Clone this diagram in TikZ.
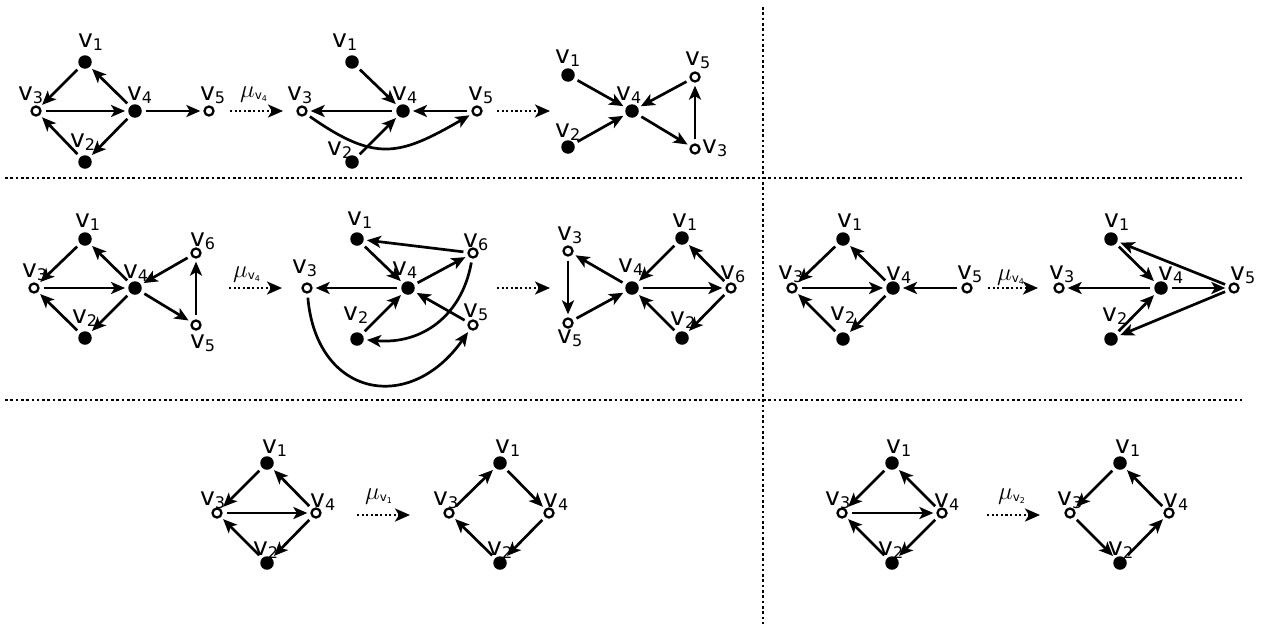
\documentclass[tikz,border=0pt]{standalone}
\usepackage{fontspec}
\setmainfont{DejaVu Sans}
\usepackage{tikz}
\usetikzlibrary{arrows.meta}
\newcommand{\vlab}[1]{v\raisebox{-3pt}{\fontsize{16}{16}\selectfont #1}}
\newcommand{\mulab}[1]{{\fontsize{25}{28}\selectfont$\mu$}\raisebox{-2pt}{\fontsize{12}{12}\selectfont v\raisebox{-2pt}{\fontsize{8}{8}\selectfont #1}}}
\tikzset{
  % Vertices
  mutable/.style={circle, fill=black, inner sep=0pt, minimum size=13.5pt},
  frozen/.style={circle, draw=black, fill=white, line width=2.3pt, inner sep=0pt, minimum size=9pt},
  % Labels
  vlabel/.style={anchor=base west, inner sep=0pt, font=\fontsize{25}{28}\selectfont},
  mulabel/.style={anchor=base west, inner sep=0pt},
  % Arrows
  myarrow/.style={-{Stealth[length=14pt, width=12pt, inset=3.5pt]}, line width=2.7pt,
    shorten <=4pt, shorten >=3pt},
  mutarrow/.style={-{Stealth[length=15pt, width=13pt, inset=4pt]}, line width=2.6pt,
    dash pattern=on 2.2pt off 2.4pt},
  % Separators
  divider/.style={line width=2.6pt, dash pattern=on 2.6pt off 2.7pt},
}
\begin{document}
\begin{tikzpicture}[x=1pt, y=1pt]
  \useasboundingbox (0,0) rectangle (1265,-629);

  % Separators
  \draw[divider] (5,-178) -- (1242,-178);
  \draw[divider] (5,-400) -- (1242,-400);
  \draw[divider] (763,-7) -- (763,-625);

  % Top row, quiver A
  \node[mutable] (a1) at (85,-62) {};
  \node[frozen] (a3) at (36,-111) {};
  \node[mutable] (a4) at (135,-111) {};
  \node[mutable] (a2) at (85,-162) {};
  \node[frozen] (a5) at (209,-111) {};
  \node[vlabel] (a1l) at (78,-47) {\vlab{1}};
  \node[vlabel] (a3l) at (18,-100) {\vlab{3}};
  \node[vlabel] (a4l) at (127,-100) {\vlab{4}};
  \node[vlabel] (a2l) at (70,-147) {\vlab{2}};
  \node[vlabel] (a5l) at (200,-100) {\vlab{5}};
  \draw[myarrow] (a1) -- (a3);
  \draw[myarrow] (a4) -- (a1);
  \draw[myarrow] (a3) -- (a4);
  \draw[myarrow] (a2) -- (a3);
  \draw[myarrow] (a4) -- (a2);
  \draw[myarrow] (a4) -- (a5);

  \coordinate (m1s) at (230,-111);
  \coordinate (m1e) at (283,-111);
  \draw[mutarrow] (m1s) -- (m1e);
  \node[mulabel] (m1l) at (240,-97) {\mulab{4}};

  % Top row, quiver B
  \node[mutable] (b1) at (352,-62) {};
  \node[frozen] (b3) at (302,-111) {};
  \node[mutable] (b4) at (403,-111) {};
  \node[mutable] (b2) at (352,-162) {};
  \node[frozen] (b5) at (477,-111) {};
  \node[vlabel] (b1l) at (332,-47) {\vlab{1}};
  \node[vlabel] (b3l) at (287,-100) {\vlab{3}};
  \node[vlabel] (b4l) at (392,-100) {\vlab{4}};
  \node[vlabel] (b2l) at (327,-155) {\vlab{2}};
  \node[vlabel] (b5l) at (468,-100) {\vlab{5}};
  \draw[myarrow] (b1) -- (b4);
  \draw[myarrow] (b4) -- (b3);
  \draw[myarrow] (b5) -- (b4);
  \draw[myarrow] (b2) -- (b4);
  \draw[myarrow] (b3) to[out=-35, in=-150, looseness=1.3] (b5);

  \coordinate (m2s) at (497,-111);
  \coordinate (m2e) at (550,-111);
  \draw[mutarrow] (m2s) -- (m2e);

  % Top row, quiver C
  \node[mutable] (c1) at (568,-75) {};
  \node[mutable] (c4) at (632,-111) {};
  \node[mutable] (c2) at (568,-147) {};
  \node[frozen] (c5) at (695,-77) {};
  \node[frozen] (c3) at (695,-149) {};
  \node[vlabel] (c1l) at (555,-63) {\vlab{1}};
  \node[vlabel] (c4l) at (616,-100) {\vlab{4}};
  \node[vlabel] (c2l) at (555,-137) {\vlab{2}};
  \node[vlabel] (c5l) at (685,-65) {\vlab{5}};
  \node[vlabel] (c3l) at (702,-153) {\vlab{3}};
  \draw[myarrow] (c1) -- (c4);
  \draw[myarrow] (c2) -- (c4);
  \draw[myarrow] (c5) -- (c4);
  \draw[myarrow] (c4) -- (c3);
  \draw[myarrow] (c3) -- (c5);

  % Middle row, quiver D
  \node[mutable] (d1) at (85,-239) {};
  \node[frozen] (d3) at (34,-288) {};
  \node[mutable] (d4) at (135,-288) {};
  \node[mutable] (d2) at (85,-338) {};
  \node[frozen] (d6) at (196,-253) {};
  \node[frozen] (d5) at (196,-325) {};
  \node[vlabel] (d1l) at (75,-227) {\vlab{1}};
  \node[vlabel] (d3l) at (22,-277) {\vlab{3}};
  \node[vlabel] (d4l) at (123,-278) {\vlab{4}};
  \node[vlabel] (d2l) at (72,-323) {\vlab{2}};
  \node[vlabel] (d6l) at (190,-246) {\vlab{6}};
  \node[vlabel] (d5l) at (190,-348) {\vlab{5}};
  \draw[myarrow] (d1) -- (d3);
  \draw[myarrow] (d4) -- (d1);
  \draw[myarrow] (d3) -- (d4);
  \draw[myarrow] (d2) -- (d3);
  \draw[myarrow] (d4) -- (d2);
  \draw[myarrow] (d6) -- (d4);
  \draw[myarrow] (d4) -- (d5);
  \draw[myarrow] (d5) -- (d6);

  \coordinate (m3s) at (229,-288);
  \coordinate (m3e) at (282,-288);
  \draw[mutarrow] (m3s) -- (m3e);
  \node[mulabel] (m3l) at (233,-277) {\mulab{4}};

  % Middle row, quiver E
  \node[mutable] (e1) at (357,-239) {};
  \node[frozen] (e3) at (307,-288) {};
  \node[mutable] (e4) at (408,-288) {};
  \node[mutable] (e2) at (357,-339) {};
  \node[frozen] (e6) at (473,-253) {};
  \node[frozen] (e5) at (473,-325) {};
  \node[vlabel] (e1l) at (347,-225) {\vlab{1}};
  \node[vlabel] (e3l) at (292,-273) {\vlab{3}};
  \node[vlabel] (e4l) at (392,-275) {\vlab{4}};
  \node[vlabel] (e2l) at (343,-320) {\vlab{2}};
  \node[vlabel] (e6l) at (463,-247) {\vlab{6}};
  \node[vlabel] (e5l) at (463,-317) {\vlab{5}};
  \draw[myarrow] (e6) -- (e1);
  \draw[myarrow] (e1) -- (e4);
  \draw[myarrow] (e4) -- (e6);
  \draw[myarrow] (e4) -- (e3);
  \draw[myarrow] (e5) -- (e4);
  \draw[myarrow] (e2) -- (e4);
  \draw[myarrow] (e6) to[out=-100, in=-5, looseness=1.1] (e2);
  \draw[myarrow] (e3) to[out=-85, in=-125, looseness=1.6] (e5);

  \coordinate (m4s) at (497,-288);
  \coordinate (m4e) at (550,-288);
  \draw[mutarrow] (m4s) -- (m4e);

  % Middle row, quiver F
  \node[frozen] (f3) at (568,-251) {};
  \node[frozen] (f5) at (568,-323) {};
  \node[mutable] (f4) at (632,-288) {};
  \node[mutable] (f1) at (682,-238) {};
  \node[frozen] (f6) at (731,-288) {};
  \node[mutable] (f2) at (682,-338) {};
  \node[vlabel] (f3l) at (557,-240) {\vlab{3}};
  \node[vlabel] (f5l) at (557,-343) {\vlab{5}};
  \node[vlabel] (f4l) at (618,-272) {\vlab{4}};
  \node[vlabel] (f1l) at (672,-227) {\vlab{1}};
  \node[vlabel] (f6l) at (720,-279) {\vlab{6}};
  \node[vlabel] (f2l) at (670,-325) {\vlab{2}};
  \draw[myarrow] (f4) -- (f3);
  \draw[myarrow] (f3) -- (f5);
  \draw[myarrow] (f5) -- (f4);
  \draw[myarrow] (f1) -- (f4);
  \draw[myarrow] (f4) -- (f6);
  \draw[myarrow] (f6) -- (f1);
  \draw[myarrow] (f6) -- (f2);
  \draw[myarrow] (f2) -- (f4);

  % Middle row, quiver G
  \node[mutable] (g1) at (843,-239) {};
  \node[frozen] (g3) at (792,-288) {};
  \node[mutable] (g4) at (893,-288) {};
  \node[mutable] (g2) at (843,-339) {};
  \node[frozen] (g5) at (967,-288) {};
  \node[vlabel] (g1l) at (837,-227) {\vlab{1}};
  \node[vlabel] (g3l) at (778,-279) {\vlab{3}};
  \node[vlabel] (g4l) at (886,-280) {\vlab{4}};
  \node[vlabel] (g2l) at (830,-320) {\vlab{2}};
  \node[vlabel] (g5l) at (957,-279) {\vlab{5}};
  \draw[myarrow] (g1) -- (g3);
  \draw[myarrow] (g4) -- (g1);
  \draw[myarrow] (g3) -- (g4);
  \draw[myarrow] (g2) -- (g3);
  \draw[myarrow] (g4) -- (g2);
  \draw[myarrow] (g5) -- (g4);

  \coordinate (m5s) at (988,-288);
  \coordinate (m5e) at (1038,-288);
  \draw[mutarrow] (m5s) -- (m5e);
  \node[mulabel] (m5l) at (997,-280) {\mulab{4}};

  % Middle row, quiver H
  \node[frozen] (h3) at (1059,-288) {};
  \node[mutable] (h1) at (1111,-239) {};
  \node[mutable] (h4) at (1161,-288) {};
  \node[mutable] (h2) at (1111,-339) {};
  \node[frozen] (h5) at (1234,-288) {};
  \node[vlabel] (h3l) at (1049,-279) {\vlab{3}};
  \node[vlabel] (h1l) at (1104,-227) {\vlab{1}};
  \node[vlabel] (h4l) at (1158,-280) {\vlab{4}};
  \node[vlabel] (h2l) at (1102,-321) {\vlab{2}};
  \node[vlabel] (h5l) at (1230,-280) {\vlab{5}};
  \draw[myarrow] (h1) -- (h4);
  \draw[myarrow] (h5) -- (h1);
  \draw[myarrow] (h4) -- (h3);
  \draw[myarrow] (h4) -- (h5);
  \draw[myarrow] (h2) -- (h4);
  \draw[myarrow] (h5) -- (h2);

  % Bottom row, quiver I
  \node[mutable] (i1) at (267,-463) {};
  \node[frozen] (i3) at (217,-513) {};
  \node[frozen] (i4) at (316,-513) {};
  \node[mutable] (i2) at (267,-563) {};
  \node[vlabel] (i1l) at (262,-453) {\vlab{1}};
  \node[vlabel] (i3l) at (200,-505) {\vlab{3}};
  \node[vlabel] (i4l) at (310,-507) {\vlab{4}};
  \node[vlabel] (i2l) at (253,-555) {\vlab{2}};
  \draw[myarrow] (i1) -- (i3);
  \draw[myarrow] (i4) -- (i1);
  \draw[myarrow] (i3) -- (i4);
  \draw[myarrow] (i2) -- (i3);
  \draw[myarrow] (i4) -- (i2);

  \coordinate (m6s) at (357,-515);
  \coordinate (m6e) at (410,-515);
  \draw[mutarrow] (m6s) -- (m6e);
  \node[mulabel] (m6l) at (365,-499) {\mulab{1}};

  % Bottom row, quiver J
  \node[mutable] (j1) at (500,-463) {};
  \node[frozen] (j3) at (449,-513) {};
  \node[frozen] (j4) at (549,-513) {};
  \node[mutable] (j2) at (500,-563) {};
  \node[vlabel] (j1l) at (495,-453) {\vlab{1}};
  \node[vlabel] (j3l) at (433,-505) {\vlab{3}};
  \node[vlabel] (j4l) at (543,-507) {\vlab{4}};
  \node[vlabel] (j2l) at (487,-555) {\vlab{2}};
  \draw[myarrow] (j3) -- (j1);
  \draw[myarrow] (j1) -- (j4);
  \draw[myarrow] (j4) -- (j2);
  \draw[myarrow] (j2) -- (j3);

  % Bottom row, quiver K
  \node[mutable] (k1) at (892,-463) {};
  \node[frozen] (k3) at (842,-513) {};
  \node[frozen] (k4) at (942,-513) {};
  \node[mutable] (k2) at (892,-563) {};
  \node[vlabel] (k1l) at (886,-453) {\vlab{1}};
  \node[vlabel] (k3l) at (825,-505) {\vlab{3}};
  \node[vlabel] (k4l) at (934,-507) {\vlab{4}};
  \node[vlabel] (k2l) at (878,-555) {\vlab{2}};
  \draw[myarrow] (k1) -- (k3);
  \draw[myarrow] (k4) -- (k1);
  \draw[myarrow] (k3) -- (k4);
  \draw[myarrow] (k2) -- (k3);
  \draw[myarrow] (k4) -- (k2);

  \coordinate (m7s) at (987,-515);
  \coordinate (m7e) at (1040,-515);
  \draw[mutarrow] (m7s) -- (m7e);
  \node[mulabel] (m7l) at (998,-499) {\mulab{2}};

  % Bottom row, quiver L
  \node[mutable] (l1) at (1120,-463) {};
  \node[frozen] (l3) at (1070,-513) {};
  \node[frozen] (l4) at (1169,-513) {};
  \node[mutable] (l2) at (1120,-563) {};
  \node[vlabel] (l1l) at (1115,-453) {\vlab{1}};
  \node[vlabel] (l3l) at (1057,-505) {\vlab{3}};
  \node[vlabel] (l4l) at (1163,-507) {\vlab{4}};
  \node[vlabel] (l2l) at (1108,-555) {\vlab{2}};
  \draw[myarrow] (l1) -- (l3);
  \draw[myarrow] (l4) -- (l1);
  \draw[myarrow] (l3) -- (l2);
  \draw[myarrow] (l2) -- (l4);

\end{tikzpicture}
\end{document}
